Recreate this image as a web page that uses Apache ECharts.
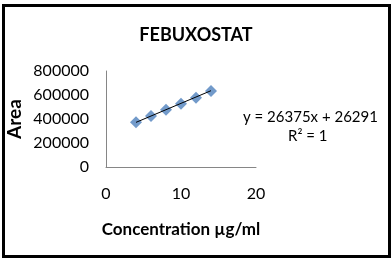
<!DOCTYPE html>
<html>
<head>
<meta charset="utf-8">
<script src="https://cdn.jsdelivr.net/npm/echarts@6/dist/echarts.min.js"></script>
<style>html,body{margin:0;padding:0;background:#fff;}#c{width:392px;height:262px;}</style>
</head>
<body>
<div id="c"></div>
<script>
const concentrations = [4, 6, 8, 10, 12, 14];
const areas = [373000, 424000, 478000, 528000, 578000, 633000];
const trendX = [4, 14];
const trendY = [372000, 636000];
const xTicks = [0, 10, 20];
const yTicks = [0, 200000, 400000, 600000, 800000];
const titleText = 'FEBUXOSTAT';
const equationText = 'y = 26375x + 26291';
const r2Text = 'R² = 1';

const FONT = 'Lato';
const chart = echarts.init(document.getElementById('c'), null, {renderer: 'canvas'});
chart.setOption({
  animation: false,
  backgroundColor: '#fff',
  title: {
    text: titleText, left: 'center', top: 21,
    textStyle: {fontFamily: FONT, fontWeight: 'bold', fontSize: 18, color: '#000'}
  },
  grid: {left: 106, right: 136, top: 71, bottom: 95},
  xAxis: {
    type: 'value', min: xTicks[0], max: xTicks[xTicks.length - 1], interval: 10,
    axisLine: {show: true, lineStyle: {color: '#868686', width: 1}},
    axisTick: {show: false},
    splitLine: {show: false},
    axisLabel: {margin: 19, fontFamily: FONT, fontSize: 16, color: '#000', formatter: v => String(v)},
    name: 'Concentration µg/ml', nameLocation: 'middle', nameGap: 54,
    nameTextStyle: {fontFamily: FONT, fontWeight: 'bold', fontSize: 17, color: '#000'}
  },
  yAxis: {
    type: 'value', min: yTicks[0], max: yTicks[yTicks.length - 1], interval: 200000,
    axisLine: {show: true, lineStyle: {color: '#868686', width: 1}},
    axisTick: {show: false},
    splitLine: {show: false},
    axisLabel: {margin: 17, fontFamily: FONT, fontSize: 16, color: '#000', formatter: v => String(v)},
    name: 'Area', nameLocation: 'middle', nameGap: 82, nameRotate: 90,
    nameTextStyle: {fontFamily: FONT, fontWeight: 'bold', fontSize: 19, color: '#000'}
  },
  series: [
    {
      type: 'scatter', symbol: 'diamond', symbolSize: 12,
      itemStyle: {color: '#4F81BD'},
      data: concentrations.map((x, i) => [x, areas[i]]),
      z: 2
    },
    {
      type: 'line', symbol: 'none', lineStyle: {color: '#000', width: 1},
      data: trendX.map((x, i) => [x, trendY[i]]),
      z: 3
    }
  ],
  graphic: [
    {type: 'rect', shape: {x: 3.5, y: 5.5, width: 386, height: 251},
     style: {fill: null, stroke: '#000', lineWidth: 3}, silent: true},
    {type: 'text', left: 243, top: 110,
     style: {text: equationText, fontFamily: FONT, fontSize: 15, fill: '#000'}},
    {type: 'text', left: 288, top: 129,
     style: {text: r2Text, fontFamily: FONT, fontSize: 15, fill: '#000'}}
  ]
});
</script>
</body>
</html>
